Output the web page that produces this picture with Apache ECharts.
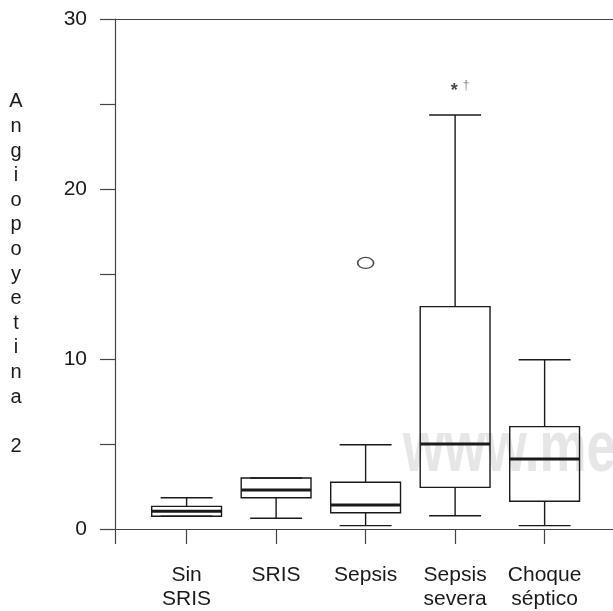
<!DOCTYPE html>
<html>
<head>
<meta charset="utf-8">
<script src="https://cdn.jsdelivr.net/npm/echarts@6/dist/echarts.min.js"></script>
<style>
  html, body { margin: 0; padding: 0; background: #fff; }
  #chart { width: 613px; height: 611px; }
</style>
</head>
<body>
<div id="chart"></div>
<script>
// grupos
const categories = ['Sin\nSRIS', 'SRIS', 'Sepsis', 'Sepsis\nsevera', 'Choque\nséptico'];
const positions = [1, 2, 3, 4, 5];
// [min, q1, mediana, q3, max]
const boxValues = [
  [0.75, 0.75, 1.04, 1.33, 1.84],
  [0.63, 1.84, 2.29, 3.0, 3.0],
  [0.2, 0.96, 1.41, 2.75, 4.96],
  [0.78, 2.45, 5.0, 13.08, 24.35],
  [0.2, 1.63, 4.12, 6.02, 9.96]
];
const outliers = [[3, 15.65]];
const extremes = [[4, 26.0]];
const yTicks = [0, 10, 20, 30];

const ink = '#1a1a1a';
const axisInk = '#444';
const boxHalf = 0.39;
const capHalf = 0.29;

const chart = echarts.init(document.getElementById('chart'));

function renderBox(params, api) {
  const x = api.value(0);
  const lo = api.value(1), q1 = api.value(2), med = api.value(3), q3 = api.value(4), hi = api.value(5);
  const pL = api.coord([x - boxHalf, q3]);
  const pR = api.coord([x + boxHalf, q1]);
  const cL = api.coord([x - capHalf, hi])[0];
  const cR = api.coord([x + capHalf, hi])[0];
  const cx = api.coord([x, 0])[0];
  const yHi = api.coord([x, hi])[1];
  const yLo = api.coord([x, lo])[1];
  const yMed = api.coord([x, med])[1];
  const thin = { stroke: ink, lineWidth: 1.4, fill: null };
  return {
    type: 'group',
    children: [
      { type: 'line', shape: { x1: cx, y1: yHi, x2: cx, y2: pL[1] }, style: thin },
      { type: 'line', shape: { x1: cL, y1: yHi, x2: cR, y2: yHi }, style: thin },
      { type: 'line', shape: { x1: cx, y1: pR[1], x2: cx, y2: yLo }, style: thin },
      { type: 'line', shape: { x1: cL, y1: yLo, x2: cR, y2: yLo }, style: thin },
      { type: 'rect', shape: { x: pL[0], y: pL[1], width: pR[0] - pL[0], height: pR[1] - pL[1] },
        style: { stroke: ink, lineWidth: 1.4, fill: 'rgba(255,255,255,0)' } },
      { type: 'line', shape: { x1: pL[0], y1: yMed, x2: pR[0], y2: yMed }, style: { stroke: ink, lineWidth: 3 } }
    ]
  };
}

chart.setOption({
  animation: false,
  backgroundColor: '#fff',
  textStyle: { fontFamily: 'Liberation Sans, Arial, sans-serif' },
  graphic: [{
    type: 'text',
    left: 403,
    top: 416,
    z: -10,
    scaleY: 1.35,
    style: {
      text: 'www.medigraphic.com',
      font: 'bold 53px "Liberation Sans", Arial, sans-serif',
      fill: '#e6e6e6'
    }
  }],
  grid: {
    left: 115,
    top: 19,
    right: 0,
    height: 511
  },
  xAxis: [{
    type: 'value',
    min: 0.2,
    max: 5.764,
    splitLine: { show: false },
    axisLine: { lineStyle: { color: axisInk, width: 1.2 } },
    axisTick: {
      customValues: [0.2].concat(positions),
      length: 15,
      lineStyle: { color: axisInk, width: 1.2 }
    },
    axisLabel: {
      customValues: positions,
      formatter: v => categories[Math.round(v) - 1],
      margin: 34,
      fontSize: 21,
      lineHeight: 24,
      color: ink
    }
  }, {
    type: 'value',
    position: 'top',
    min: 0.2,
    max: 5.764,
    splitLine: { show: false },
    axisLine: { show: true, lineStyle: { color: axisInk, width: 1.2 } },
    axisTick: { show: false },
    axisLabel: { show: false }
  }],
  yAxis: {
    type: 'value',
    min: 0,
    max: 30,
    interval: 5,
    splitLine: { show: false },
    axisLine: { show: true, lineStyle: { color: axisInk, width: 1.2 } },
    axisTick: { length: 15, lineStyle: { color: axisInk, width: 1.2 } },
    axisLabel: {
      formatter: v => (yTicks.indexOf(v) >= 0 ? String(v) : ''),
      margin: 28,
      fontSize: 21,
      color: ink
    },
    name: 'A\nn\ng\ni\no\np\no\ny\ne\nt\ni\nn\na\n\n2',
    nameLocation: 'middle',
    nameRotate: 0,
    nameGap: 99,
    nameTextStyle: { fontSize: 20, lineHeight: 24.6, color: ink, align: 'center', verticalAlign: 'middle' }
  },
  series: [
    {
      type: 'custom',
      renderItem: renderBox,
      data: boxValues.map((b, i) => [positions[i]].concat(b)),
      z: 3
    },
    {
      type: 'scatter',
      data: outliers,
      symbol: 'circle',
      symbolSize: [16, 11],
      itemStyle: { color: '#fff', borderColor: ink, borderWidth: 1.4 },
      z: 4
    },
    {
      type: 'scatter',
      data: extremes,
      symbolSize: 0,
      label: {
        show: true,
        position: 'inside',
        formatter: '{s|*}{d|†}',
        rich: {
          s: { fontSize: 18, fontWeight: 'bold', color: ink, padding: [8, 5, 0, 0] },
          d: { fontSize: 12, color: '#666', padding: [0, 0, 2, 0] }
        },
        offset: [5, 0]
      },
      z: 4
    }
  ]
});
</script>
</body>
</html>
